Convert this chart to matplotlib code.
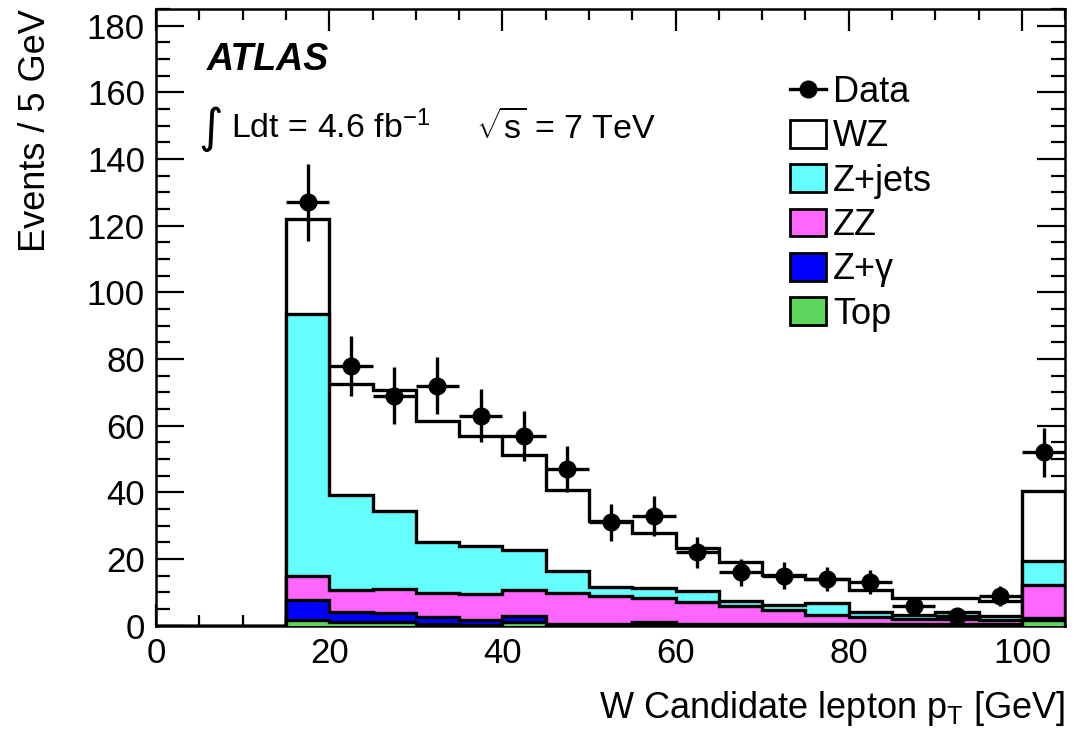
import numpy as np
import matplotlib.pyplot as plt
from matplotlib.patches import Patch
from matplotlib.lines import Line2D

plt.rcParams['font.family'] = ['Liberation Sans', 'DejaVu Sans']
plt.rcParams['mathtext.fontset'] = 'custom'
plt.rcParams['mathtext.rm'] = 'Liberation Sans'
plt.rcParams['mathtext.it'] = 'Liberation Sans:italic'
plt.rcParams['mathtext.bf'] = 'Liberation Sans:bold'

# bin edges 0..105 GeV in 5 GeV steps, first three bins empty
edges = np.arange(0, 110, 5)
empty = [0, 0, 0]

# per-process yields for bins 15-20 ... 100-105 (last bin = overflow)
top    = empty + [1.8, 1.0, 1.0, 0.4, 0.3, 1.0, 0.3, 0.3, 0.3, 0.2, 0.2, 0.2, 0.2, 0.2, 0.2, 0.2, 0.2, 1.8]
zgamma = empty + [6.0, 3.2, 2.8, 2.1, 1.5, 1.8, 0.3, 0.1, 0.7, 0.3, 0.2, 0.2, 0.2, 0.2, 0.2, 0.2, 0.2, 0.6]
zz     = empty + [7.0, 6.6, 7.2, 7.3, 7.7, 8.0, 9.2, 8.4, 7.3, 6.5, 5.4, 4.2, 2.9, 2.2, 1.6, 1.6, 1.2, 9.9]
zjets  = empty + [78.8, 28.5, 23.3, 15.3, 14.3, 11.8, 6.5, 2.8, 3.0, 3.3, 1.5, 1.7, 3.5, 1.4, 1.1, 2.0, 1.2, 7.0]
wz     = empty + [28.4, 33.2, 36.5, 36.4, 33.2, 28.7, 24.5, 19.7, 16.5, 13.0, 11.7, 9.0, 7.2, 6.8, 5.2, 4.3, 4.5, 21.0]

data_x   = [17.5, 22.5, 27.5, 32.5, 37.5, 42.5, 47.5, 52.5, 57.5, 62.5, 67.5, 72.5, 77.5, 82.5, 87.5, 92.5, 97.5, 102.5]
data_y   = [127, 78, 69, 72, 63, 57, 47, 31, 33, 22, 16, 15, 14, 13, 6, 3, 9, 52]
data_err = [11.5, 9.0, 8.5, 8.5, 8.0, 7.5, 7.0, 5.5, 6.0, 4.7, 4.0, 4.0, 3.7, 3.6, 2.5, 1.7, 3.0, 7.3]

names  = ['Top', 'Z+γ', 'ZZ', 'Z+jets', 'WZ']
stack  = [top, zgamma, zz, zjets, wz]
colors = ['#5cd65c', '#0000ff', '#ff66ff', '#66ffff', 'white']

fig = plt.figure(figsize=(10.76, 7.38), dpi=100)
ax = fig.add_axes([0.145, 0.152, 0.845, 0.836])

cum = np.cumsum(np.array(stack, dtype=float), axis=0)
# draw from the total down so lower components sit on top
for i in range(len(stack) - 1, -1, -1):
    ax.stairs(cum[i], edges, baseline=0, fill=True, facecolor=colors[i],
              edgecolor='black', linewidth=2.4, zorder=2 + (len(stack) - i))

ax.errorbar(data_x, data_y, xerr=2.5, yerr=data_err, fmt='o', color='black',
            ms=12, elinewidth=2.4, capsize=0, zorder=20, clip_on=False)

ax.set_xlim(0, 105)
ax.set_ylim(0, 185)
ax.set_xticks(np.arange(0, 101, 20))
ax.set_xticks(np.arange(0, 106, 5), minor=True)
ax.set_yticks(np.arange(0, 181, 20))
ax.set_yticks(np.arange(0, 186, 5), minor=True)
ax.tick_params(which='both', direction='in', top=True, right=True, width=1.6,
               labelsize=25, pad=8)
ax.tick_params(axis='y', which='major', length=20)
ax.tick_params(axis='y', which='minor', length=10)
ax.tick_params(axis='x', which='major', length=16)
ax.tick_params(axis='x', which='minor', length=8)
for s in ax.spines.values():
    s.set_linewidth(1.8)

ax.set_xlabel('W Candidate lepton p$_\\mathrm{T}$ [GeV]', fontsize=26, loc='right', labelpad=14)
ax.set_ylabel('Events / 5 GeV', fontsize=26, loc='top', labelpad=24)

ax.text(0.056, 0.917, 'ATLAS', transform=ax.transAxes, fontsize=27,
        fontweight='bold', fontstyle='italic', va='center', ha='left')
ax.text(0.046, 0.805, '∫', transform=ax.transAxes, fontsize=34, va='center', ha='left',
        family=['DejaVu Sans'])
ax.text(0.083, 0.807, 'Ldt = 4.6 fb$^{\\mathrm{-1}}$', transform=ax.transAxes, fontsize=24.5,
        va='center', ha='left')
ax.text(0.352, 0.807, '$\\sqrt{\\mathrm{s}}$ = 7 TeV', transform=ax.transAxes, fontsize=24.5,
        va='center', ha='left')

handles = [Line2D([], [], color='black', marker='o', ms=12, lw=2.4)]
labels = ['Data']
for i in range(len(stack) - 1, -1, -1):
    handles.append(Patch(facecolor=colors[i], edgecolor='black', linewidth=2))
    labels.append(names[i])
ax.legend(handles, labels, loc='upper left', bbox_to_anchor=(0.697, 0.893),
          frameon=False, fontsize=26, handlelength=1.0, handleheight=0.8,
          handletextpad=0.2, labelspacing=0.26, borderaxespad=0, borderpad=0)

fig.savefig('out.png', dpi=100)
